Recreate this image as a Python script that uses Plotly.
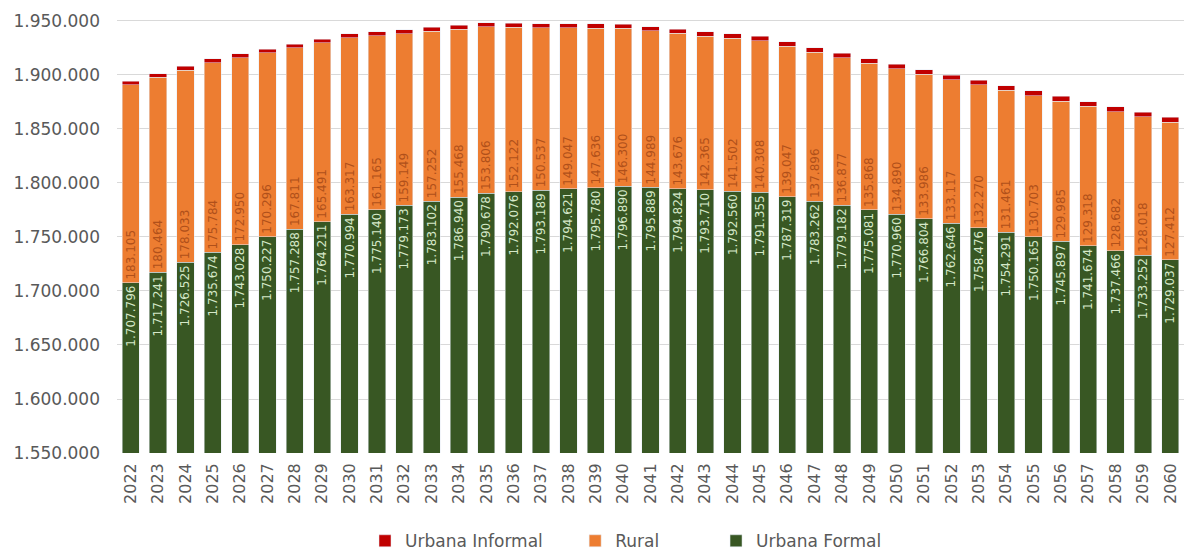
import plotly.graph_objects as go

years = [str(y) for y in range(2022, 2061)]

urbana_formal = [1707796, 1717241, 1726525, 1735674, 1743028, 1750227, 1757288, 1764211,
                 1770994, 1775140, 1779173, 1783102, 1786940, 1790678, 1792076, 1793189,
                 1794621, 1795780, 1796890, 1795889, 1794824, 1793710, 1792560, 1791355,
                 1787319, 1783262, 1779182, 1775081, 1770960, 1766804, 1762646, 1758476,
                 1754291, 1750165, 1745897, 1741674, 1737466, 1733252, 1729037]

rural = [183105, 180464, 178033, 175784, 172950, 170296, 167811, 165491,
         163317, 161165, 159149, 157252, 155468, 153806, 152122, 150537,
         149047, 147636, 146300, 144989, 143676, 142365, 141502, 140308,
         139047, 137896, 136877, 135868, 134890, 133986, 133117, 132270,
         131461, 130703, 129985, 129318, 128682, 128018, 127412]

urbana_informal = [3100, 3200, 3300, 3400, 3500, 3450, 3550, 3600,
                   3650, 3700, 3700, 3750, 3800, 3800, 3850, 3850,
                   3900, 3900, 3950, 3950, 4000, 4000, 4050, 4050,
                   4400, 4100, 4100, 4150, 4150, 4200, 4200, 4250,
                   4250, 4300, 4300, 4300, 4350, 4350, 4400]

y_ticks = [1550000, 1600000, 1650000, 1700000, 1750000,
           1800000, 1850000, 1900000, 1950000]

FONT = "DejaVu Sans"
GREEN = "#385723"
ORANGE = "#ED7D31"
RED = "#C00000"

fig = go.Figure()
fig.add_trace(go.Bar(
    x=years, y=urbana_formal, name="Urbana Formal", marker_color=GREEN,
    texttemplate="%{y:,.0f}", textposition="inside", insidetextanchor="end",
    textangle=-90, textfont=dict(family=FONT, size=12, color="#D5E8C8"),
    legend="legend3",
))
fig.add_trace(go.Bar(
    x=years, y=rural, name="Rural", marker_color=ORANGE,
    texttemplate="%{y:,.0f}", textposition="inside", insidetextanchor="start",
    textangle=-90, textfont=dict(family=FONT, size=12, color="#B0501A"),
    legend="legend2",
))
fig.add_trace(go.Bar(
    x=years, y=urbana_informal, name="Urbana Informal", marker_color=RED,
    textposition="none", legend="legend",
))

legend_common = dict(orientation="h", xanchor="left", xref="container", yref="container",
                     y=0.034, yanchor="middle", itemwidth=30,
                     font=dict(family=FONT, size=17, color="#595959"),
                     bgcolor="rgba(0,0,0,0)")

fig.update_layout(
    barmode="stack",
    bargap=0.37,
    width=1194, height=552,
    margin=dict(l=109, r=18, t=8, b=107, autoexpand=False),
    paper_bgcolor="white", plot_bgcolor="white",
    separators=",.",
    font=dict(family=FONT, color="#595959"),
    uniformtext=dict(minsize=12, mode="show"),
    legend=dict(x=0.299, **legend_common),
    legend2=dict(x=0.475, **legend_common),
    legend3=dict(x=0.593, **legend_common),
    showlegend=True,
)
fig.update_yaxes(range=[1550000, 1954600], tickvals=y_ticks,
                 tickformat=",.0f", tickfont=dict(family=FONT, size=17, color="#595959"),
                 showgrid=True, gridcolor="#D9D9D9", gridwidth=1, zeroline=False,
                 showline=False, ticks="", automargin=False, ticklabelstandoff=16)
fig.update_xaxes(type="category", tickangle=-90, tickfont=dict(family=FONT, size=16, color="#595959"),
                 showgrid=False, showline=False, ticks="", automargin=False,
                 ticklabelstandoff=6)

fig.write_html("out.html")
